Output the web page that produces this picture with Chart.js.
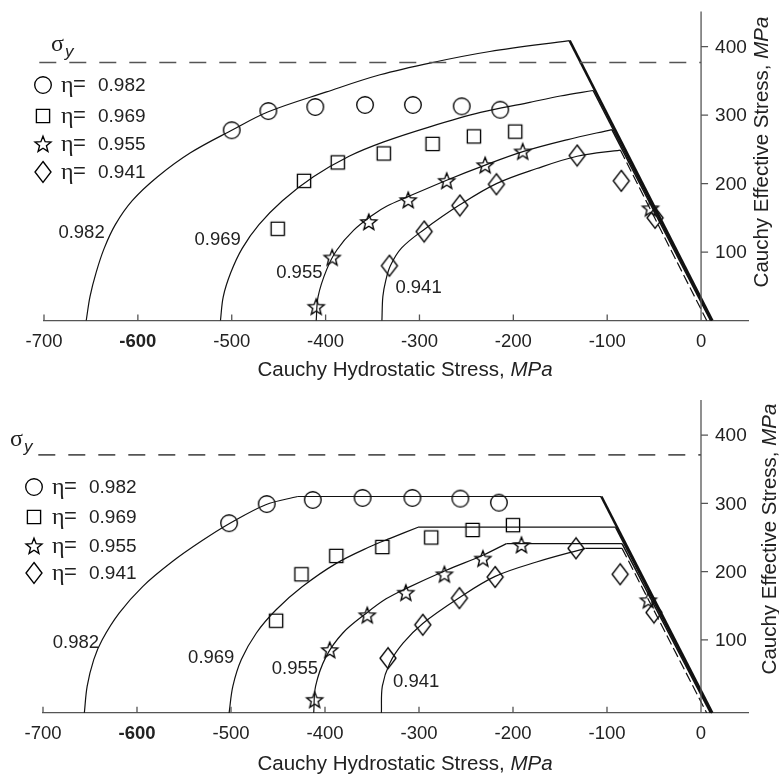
<!DOCTYPE html>
<html>
<head>
<meta charset="utf-8">
<script src="https://cdn.jsdelivr.net/npm/chart.js@4.4.0/dist/chart.umd.min.js"></script>
<style>
  html, body { margin: 0; padding: 0; background: #fff; }
  #wrap { width: 779px; height: 774px; }
  canvas { display: block; }
</style>
</head>
<body>
<div id="wrap">
  <canvas id="chartTop" width="779" height="387"></canvas>
  <canvas id="chartBottom" width="779" height="387"></canvas>
</div>
<script>
// ---- data (MPa) ----
const X_TICKS = [-700, -600, -500, -400, -300, -200, -100, 0];
const Y_TICKS = [100, 200, 300, 400];
const ETA = ['0.982', '0.969', '0.955', '0.941'];

// top panel
const topSigmaY = 377;
const topCurve982 = [[-655, 0], [-651, 35], [-644.5, 70], [-636, 105], [-624, 140], [-606, 175], [-579, 210], [-544, 245], [-500, 278], [-461, 305], [-399, 334], [-342, 359], [-286, 377], [-225, 393], [-140, 409]];
const topCurve969 = [[-512, 0], [-509, 35], [-501, 70], [-489, 105], [-471, 140], [-446, 175], [-413, 210], [-375, 240], [-338, 261], [-289, 283], [-235, 304], [-185, 318], [-150, 328], [-115, 336]];
const topCurve955 = [[-410, 0], [-408, 35], [-399, 74], [-388, 103], [-370, 132], [-349, 155], [-335, 167], [-312, 181], [-271, 205], [-230, 227], [-189, 247], [-143, 264], [-95, 279]];
const topCurve941 = [[-340, 0], [-339, 35], [-336, 58], [-331, 80], [-319, 106], [-296, 132], [-257, 169], [-218, 200], [-175, 222], [-132, 240], [-86, 249]];
const topTail982 = [[-140, 409], [12, 0]];
const topTail969 = [[-115, 336], [11, 0]];
const topTail955 = [[-95, 279], [10, 0]];
const topTail941 = [[-86, 249], [6, 0]];
const topCircles = [[-500, 278], [-461, 306], [-411, 312], [-358, 315], [-307, 315], [-255, 313], [-214, 308]];
const topSquares = [[-451, 134], [-423, 204], [-387, 231], [-338, 244], [-286, 258], [-242, 269], [-198, 276]];
const topStars = [[-410, 20], [-393, 92], [-354, 144], [-312, 176], [-271, 204], [-230, 227], [-190, 247], [-54, 164]];
const topDiamonds = [[-332, 80], [-295, 130], [-257, 168], [-218, 199], [-132, 241], [-85, 204], [-49, 150]];
const topLabelAt = [[-660, 128], [-515, 118], [-428, 70], [-301, 47]];

// bottom panel
const botSigmaY = 371;
const botCurve982 = [[-656, -7], [-653, 32], [-646, 71], [-637, 100], [-619, 139], [-594, 178], [-562, 215], [-531, 245], [-502, 270], [-463, 298], [-429, 310]];
const botCurve969 = [[-502, -7], [-498, 32], [-489, 71], [-473, 110], [-452, 144], [-424, 178], [-388, 212], [-353, 236], [-330, 249], [-301, 265]];
const botCurve955 = [[-412, -7], [-410, 32], [-399, 75], [-381, 110], [-356, 139], [-335, 160], [-314, 175], [-271, 202], [-232, 224], [-207, 241]];
const botCurve941 = [[-340, -7], [-339, 32], [-331, 66], [-317, 95], [-296, 124], [-258, 161], [-219, 193], [-175, 214], [-123, 234]];
const botTail982 = [[-429, 310], [-106, 310], [12, -7]];
const botTail969 = [[-301, 265], [-91, 265], [11, -7]];
const botTail955 = [[-207, 241], [-84, 241], [10, -7]];
const botTail941 = [[-123, 234], [-84, 234], [6, -7]];
const botCircles = [[-502, 271], [-462, 299], [-413, 305], [-360, 308], [-307, 308], [-256, 307], [-215, 301]];
const botSquares = [[-452, 128], [-425, 196], [-388, 223], [-339, 236], [-287, 250], [-243, 261], [-200, 268]];
const botStars = [[-411, 12], [-395, 85], [-355, 136], [-314, 169], [-273, 196], [-232, 219], [-191, 239], [-56, 158]];
const botDiamonds = [[-333, 73], [-296, 122], [-257, 161], [-219, 192], [-133, 234], [-86, 196], [-50, 140]];
const botLabelAt = [[-665, 96], [-521, 73], [-432, 57], [-303, 38]];

// ---- styling ----
const SANS = '"Liberation Sans", Arial, sans-serif';
const SERIF = '"Liberation Serif", "Times New Roman", serif';
const TEXT_COLOR = '#222';
const AXIS_COLOR = '#555';
const LINE_COLOR = '#111';

/**
 * Hollow marker glyphs, used as pointStyle images
 */
function makeMarker(kind) {
  const c = document.createElement('canvas');
  c.width = 22; c.height = 24;
  const g = c.getContext('2d');
  const cx = c.width / 2, cy = c.height / 2;
  g.strokeStyle = '#000';
  g.lineWidth = 1.35;
  g.beginPath();
  if (kind === 'circle') {
    g.arc(cx, cy, 8.3, 0, Math.PI * 2);
  } else if (kind === 'square') {
    g.rect(cx - 6.6, cy - 6.6, 13.2, 13.2);
  } else if (kind === 'star') {
    const R = 8.4, r = 3.6;
    for (let i = 0; i < 10; i++) {
      const a = -Math.PI / 2 + i * Math.PI / 5;
      const rad = i % 2 === 0 ? R : r;
      const px = cx + rad * Math.cos(a), py = cy + 0.6 + rad * Math.sin(a);
      if (i === 0) g.moveTo(px, py); else g.lineTo(px, py);
    }
    g.closePath();
  } else {
    g.moveTo(cx, cy - 10.5);
    g.lineTo(cx + 8, cy);
    g.lineTo(cx, cy + 10.5);
    g.lineTo(cx - 8, cy);
    g.closePath();
  }
  g.stroke();
  return c;
}

const MARKERS = ['circle', 'square', 'star', 'diamond'].map(makeMarker);

const toPoints = pairs => pairs.map(([x, y]) => ({ x, y }));

function curveDataset(pairs) {
  return {
    data: toPoints(pairs), showLine: true, borderColor: LINE_COLOR, borderWidth: 1.2,
    pointRadius: 0, tension: 0.35, fill: false, clip: false
  };
}

// flat part stays thin, the final drop to the axis is the heavy line
function tailDataset(pairs, slopeWidth, dashed) {
  const last = pairs.length - 2;
  return {
    data: toPoints(pairs), showLine: true, borderColor: LINE_COLOR, borderWidth: 1.2,
    pointRadius: 0, tension: 0, fill: false, clip: false,
    segment: {
      borderWidth: ctx => ctx.p0DataIndex === last ? slopeWidth : 1.2,
      borderDash: ctx => (dashed && ctx.p0DataIndex === last) ? [10, 4] : undefined
    }
  };
}

function markerDataset(pairs, img) {
  return {
    data: toPoints(pairs), showLine: false, pointStyle: img,
    pointRadius: 8, pointHoverRadius: 8, clip: false
  };
}

function sigmaDataset(level) {
  return {
    data: [{ x: -705, y: level }, { x: 0, y: level }], showLine: true,
    borderColor: AXIS_COLOR, borderWidth: 1.6, borderDash: [17, 13],
    pointRadius: 0, tension: 0, clip: false
  };
}

// axes, legend, labels and titles that Chart.js cannot place by itself
const panelDecor = {
  id: 'panelDecor',
  afterDraw(chart, args, opts) {
    const { ctx, chartArea: area, scales: { x, y } } = chart;
    const x0 = x.getPixelForValue(0);
    ctx.save();

    // tick marks pointing into the plot, and the y axis standing at x = 0
    ctx.strokeStyle = AXIS_COLOR;
    ctx.lineWidth = 1.3;
    ctx.beginPath();
    x.ticks.forEach(t => {
      const px = x.getPixelForValue(t.value);
      ctx.moveTo(px, area.bottom);
      ctx.lineTo(px, area.bottom - 6);
    });
    ctx.moveTo(x0, area.top - 1);
    ctx.lineTo(x0, area.bottom);
    y.ticks.forEach(t => {
      const py = y.getPixelForValue(t.value);
      ctx.moveTo(x0, py);
      ctx.lineTo(x0 + 7, py);
    });
    ctx.stroke();

    ctx.fillStyle = TEXT_COLOR;
    ctx.font = `19px ${SANS}`;
    ctx.textAlign = 'left';
    ctx.textBaseline = 'middle';
    y.ticks.forEach(t => ctx.fillText(String(t.value), x0 + 14, y.getPixelForValue(t.value) + 1));

    // curve labels
    ctx.textAlign = 'center';
    ctx.font = `18.5px ${SANS}`;
    opts.labelAt.forEach(([lx, ly], i) => {
      ctx.fillText(ETA[i], x.getPixelForValue(lx), y.getPixelForValue(ly));
    });

    // legend
    const lg = opts.legend;
    lg.rows.forEach((ry, i) => {
      const img = MARKERS[i];
      ctx.drawImage(img, lg.markerX - img.width / 2, ry - img.height / 2);
      ctx.textAlign = 'left';
      ctx.font = `24px ${SERIF}`;
      ctx.fillText('\u03b7', lg.etaX, ry + 1);
      ctx.font = `22px ${SANS}`;
      ctx.fillText('=', lg.etaX + 12, ry);
      ctx.font = `19px ${SANS}`;
      ctx.fillText(ETA[i], lg.numX, ry + 1);
    });

    // sigma_y label
    const s = opts.sigma;
    ctx.textBaseline = 'alphabetic';
    ctx.font = `24px ${SERIF}`;
    ctx.fillText('\u03c3', s.x, s.y);
    ctx.font = `italic 17px ${SANS}`;
    ctx.fillText('y', s.x + 14, s.y + 6);

    // x axis title with italic unit
    const part1 = 'Cauchy Hydrostatic Stress, ';
    const part2 = 'MPa';
    ctx.textBaseline = 'middle';
    ctx.font = `20.5px ${SANS}`;
    const w1 = ctx.measureText(part1).width;
    ctx.font = `italic 20.5px ${SANS}`;
    const w2 = ctx.measureText(part2).width;
    let sx = opts.xTitle.x - (w1 + w2) / 2;
    ctx.font = `20.5px ${SANS}`;
    ctx.fillText(part1, sx, opts.xTitle.y);
    ctx.font = `italic 20.5px ${SANS}`;
    ctx.fillText(part2, sx + w1, opts.xTitle.y);

    // y axis title, reading bottom to top
    const q1 = 'Cauchy Effective Stress, ';
    ctx.translate(opts.yTitle.x, opts.yTitle.y);
    ctx.rotate(-Math.PI / 2);
    ctx.font = `20.5px ${SANS}`;
    const v1 = ctx.measureText(q1).width;
    ctx.font = `italic 20.5px ${SANS}`;
    const v2 = ctx.measureText(part2).width;
    sx = -(v1 + v2) / 2;
    ctx.font = `20.5px ${SANS}`;
    ctx.fillText(q1, sx, 0);
    ctx.font = `italic 20.5px ${SANS}`;
    ctx.fillText(part2, sx + v1, 0);

    ctx.restore();
  }
};

function makePanel(canvasId, p) {
  const datasets = [
    sigmaDataset(p.sigmaY),
    curveDataset(p.curves[0]), curveDataset(p.curves[1]), curveDataset(p.curves[2]), curveDataset(p.curves[3]),
    tailDataset(p.tails[0], 2.6, false), tailDataset(p.tails[1], 1.5, false),
    tailDataset(p.tails[2], 1.5, false), tailDataset(p.tails[3], 1.2, true),
    markerDataset(p.marks[0], MARKERS[0]), markerDataset(p.marks[1], MARKERS[1]),
    markerDataset(p.marks[2], MARKERS[2]), markerDataset(p.marks[3], MARKERS[3])
  ];

  return new Chart(document.getElementById(canvasId), {
    type: 'scatter',
    data: { datasets },
    options: {
      responsive: false,
      animation: false,
      devicePixelRatio: 1,
      events: [],
      layout: { padding: p.padding },
      scales: {
        x: {
          type: 'linear', min: -700, max: 50,
          afterBuildTicks: scale => { scale.ticks = X_TICKS.map(v => ({ value: v })); },
          grid: { display: false, drawTicks: false },
          border: { display: true, color: AXIS_COLOR, width: 1.3 },
          ticks: {
            color: TEXT_COLOR, padding: 10, maxRotation: 0, autoSkip: false,
            font: ctx => ({ family: SANS, size: 18.5, weight: ctx.tick && ctx.tick.value === -600 ? 'bold' : 'normal' })
          }
        },
        y: {
          type: 'linear', min: p.yMin, max: 450, display: false,
          afterBuildTicks: scale => { scale.ticks = Y_TICKS.map(v => ({ value: v })); }
        }
      },
      plugins: {
        legend: { display: false },
        tooltip: { enabled: false },
        panelDecor: {
          labelAt: p.labelAt,
          legend: p.legend,
          sigma: p.sigma,
          xTitle: p.xTitle,
          yTitle: p.yTitle
        }
      }
    },
    plugins: [panelDecor]
  });
}

makePanel('chartTop', {
  sigmaY: topSigmaY, yMin: 0,
  curves: [topCurve982, topCurve969, topCurve955, topCurve941],
  tails: [topTail982, topTail969, topTail955, topTail941],
  marks: [topCircles, topSquares, topStars, topDiamonds],
  labelAt: topLabelAt,
  padding: { left: 44, right: 31, top: 12.5, bottom: 24.3 },
  legend: { markerX: 43, etaX: 61, numX: 98, rows: [85, 116, 144, 172] },
  sigma: { x: 51, y: 51 },
  xTitle: { x: 405, y: 370 },
  yTitle: { x: 762, y: 152 }
});

makePanel('chartBottom', {
  sigmaY: botSigmaY, yMin: -7,
  curves: [botCurve982, botCurve969, botCurve955, botCurve941],
  tails: [botTail982, botTail969, botTail955, botTail941],
  marks: [botCircles, botSquares, botStars, botDiamonds],
  labelAt: botLabelAt,
  padding: { left: 43, right: 31, top: 14, bottom: 19 },
  legend: { markerX: 34, etaX: 52, numX: 89, rows: [100, 130, 159, 186] },
  sigma: { x: 10, y: 59 },
  xTitle: { x: 405, y: 377 },
  yTitle: { x: 770, y: 152 }
});
</script>
</body>
</html>
